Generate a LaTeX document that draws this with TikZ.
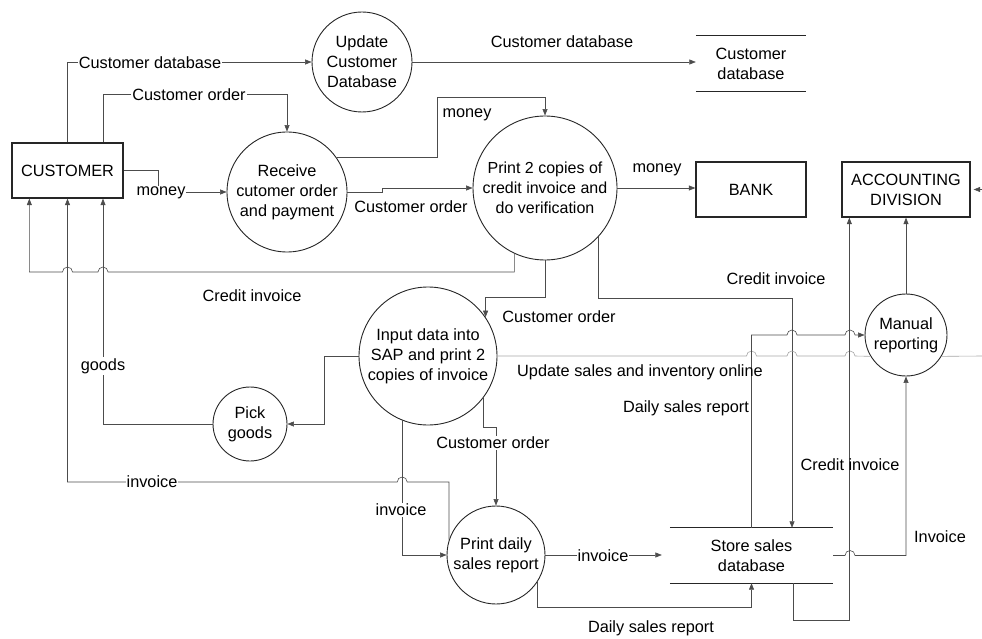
\documentclass[tikz,border=0pt]{standalone}
\usepackage{fontspec}
\setmainfont{Liberation Sans}
\usetikzlibrary{arrows.meta,calc}
\begin{document}
\begin{tikzpicture}[x=1pt,y=-1pt,
  txt/.style={font=\fontsize{16.3}{20}\selectfont},
  proc/.style={txt,circle,draw=black!85,line width=0.9pt,fill=white,inner sep=0pt,align=center},
  ent/.style={txt,rectangle,draw=black!85,line width=1.3pt,fill=white,align=center,inner sep=0pt},
  store/.style={txt,rectangle,align=center,inner sep=0pt},
  storeline/.style={draw=black!85,line width=1.3pt},
  flow/.style={draw=black!70,line width=0.6pt,-{Triangle[length=6.5pt,width=5pt]}},
  faint/.style={draw=black!35,line width=0.6pt},
  lbl/.style={txt,inner sep=1pt},
  onln/.style={lbl,fill=white},
]
\useasboundingbox (0,0) rectangle (982,639);

% external entities
\node[ent,minimum width=111pt,minimum height=55pt] (cust) at (67.5,170.5) {CUSTOMER};
\node[ent,minimum width=110pt,minimum height=55pt] (bank) at (751,189.5) {BANK};
\node[ent,minimum width=128pt,minimum height=55pt] (acct) at (906,189.5) {ACCOUNTING\\DIVISION};

% processes
\node[proc,minimum size=100pt] (upd) at (362,62) {Update\\Customer\\Database};
\node[proc,minimum size=120pt] (recv) at (287,192) {Receive\\cutomer order\\and payment};
\node[proc,minimum size=144pt,font=\fontsize{16}{20}\selectfont] (prt) at (545,188) {Print 2 copies of\\credit invoice and\\do verification};
\node[proc,minimum size=138pt] (sap) at (428,356) {Input data into\\SAP and print 2\\copies of invoice};
\node[proc,minimum size=74pt] (pick) at (250,424) {Pick\\goods};
\node[proc,minimum size=82pt] (man) at (906,335) {Manual\\reporting};
\node[proc,minimum size=98pt] (daily) at (496,555) {Print daily\\sales report};

% data stores
\node[store,minimum width=110pt,minimum height=55pt] (cdb) at (751,63.5) {Customer\\database};
\draw[storeline] (cdb.north west) -- (cdb.north east) (cdb.south west) -- (cdb.south east);
\node[store,minimum width=163pt,minimum height=55pt] (ssd) at (751.5,555.5) {Store sales\\database};
\draw[storeline] (ssd.north west) -- (ssd.north east) (ssd.south west) -- (ssd.south east);

% free ends
\coordinate (accin) at (982,189.5);
\coordinate (rimR) at (982,356);

% customer side
\draw[flow] (cust.north) |- (upd.west);
\draw[flow] ([xshift=35.5]cust.north) -- ++(0,-48) -| (recv.north);
\draw[flow] (cust.east) -| ([xshift=-68]recv.west) -- (recv.west);
\draw[flow] (upd.east) -- (upd.east -| cdb.west);

% receive -> print
\draw[flow] (recv.35) -| ++(101,-60) -| (prt.north);
\draw[flow] (recv.east) -- ++(35,0) |- (prt.west);
\draw[flow] (prt.east) -- (prt.east -| bank.west);

% print -> SAP, customer, store
\draw[flow] (prt.south) -- ++(0,37) -| (sap.34);
\draw[flow] (prt.245) -- (prt.245 |- 0,272) -- (108,272)
  arc[start angle=0,end angle=-180,radius=5] -- (72.5,272)
  arc[start angle=0,end angle=-180,radius=5] -- ([xshift=18]cust.south west |- 0,272)
  -- ([xshift=18]cust.south west);
\draw[flow] (prt.-43) -- (prt.-43 |- 0,298) -| ([xshift=40.5]ssd.north);

% SAP outputs
\draw[flow] (sap.west) -- ++(-34,0) |- (pick.east);
\draw[faint] (sap.east) -- (746.5,356) arc[start angle=180,end angle=360,radius=5]
  -- (787,356) arc[start angle=180,end angle=360,radius=5]
  -- (845,356) arc[start angle=180,end angle=360,radius=5] -- (man.-149);
\draw[faint] (man.-31) -- (rimR);
\draw[flow] (sap.-37) -- ++(0,30) -| (daily.north);
\draw[flow] (sap.248) |- (daily.west);

% goods and invoice back to customer
\draw[flow] (pick.west) -| ([xshift=35.5]cust.south);
\draw[flow] (daily.162) -- (daily.162 |- 0,482) -- (407.2,482)
  arc[start angle=0,end angle=-180,radius=5] -- (cust.south |- 0,482) -- (cust.south);

% daily report -> store
\draw[flow,shorten >=8pt] (daily.east) -- (daily.east -| ssd.west);
\draw[flow] (daily.-33) -- (daily.-33 |- 0,607) -| (ssd.south);

% store -> manual reporting / accounting
\draw[flow] (ssd.north) -- (ssd.north |- 0,335) -- (787,335)
  arc[start angle=180,end angle=360,radius=5] -- (845,335)
  arc[start angle=180,end angle=360,radius=5] -- (man.west);
\draw[flow] (ssd.east) -- (845,555.5) arc[start angle=180,end angle=360,radius=5]
  -- (man.south |- 0,555.5) -- (man.south);
\draw[flow] ([xshift=41.5]ssd.south) -- ++(0,37) -| ([xshift=8]acct.south west);
\draw[flow] (man.north) -- (man.north |- acct.south);
\draw[flow,shorten >=3pt] (accin) -- (acct.east);

% flow labels
\node[onln] (l1) at (150,63) {Customer database};
\node[onln] (l2) at (189,95) {Customer order};
\node[onln] (l3) at (161,193) {money};
\node[lbl] (l4) at (562,42) {Customer database};
\node[lbl] (l5) at (467,115) {money};
\node[lbl] (l6) at (411,207) {Customer order};
\node[lbl] (l7) at (657,170) {money};
\node[lbl] (l8) at (252,296) {Credit invoice};
\node[lbl] (l9) at (559,317) {Customer order};
\node[lbl] (l10) at (776,279) {Credit invoice};
\node[lbl] (l11) at (640,372) {Update sales and inventory online};
\node[lbl] (l12) at (686,408) {Daily sales report};
\node[onln] (l13) at (103,366) {goods};
\node[onln] (l14) at (493,443) {Customer order};
\node[onln] (l15) at (152,482) {invoice};
\node[onln] (l16) at (401,510) {invoice};
\node[lbl] (l17) at (850,465) {Credit invoice};
\node[lbl] (l18) at (940,537) {Invoice};
\node[onln] (l19) at (603,555.5) {invoice};
\node[lbl] (l20) at (651,628) {Daily sales report};
\end{tikzpicture}
\end{document}
